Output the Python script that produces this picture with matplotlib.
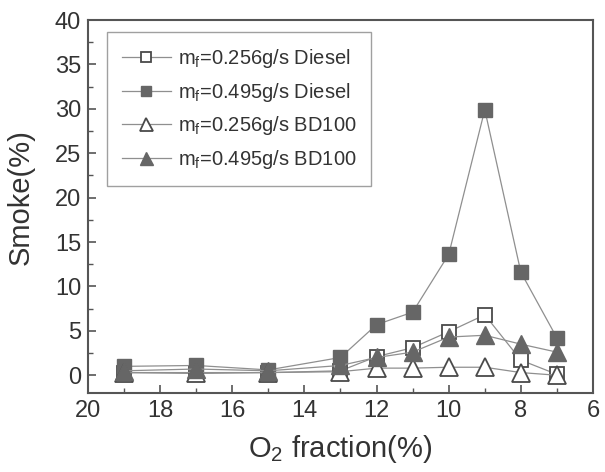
import matplotlib
matplotlib.use("Agg")
import matplotlib.pyplot as plt
from matplotlib.ticker import MultipleLocator

plt.rcParams['font.family'] = ['Liberation Sans', 'DejaVu Sans']
plt.rcParams['mathtext.fontset'] = 'custom'
plt.rcParams['mathtext.rm'] = 'Liberation Sans'
plt.rcParams['mathtext.it'] = 'Liberation Sans'

o2 = [19, 17, 15, 13, 12, 11, 10, 9, 8, 7]
diesel_256 = [0.3, 0.2, 0.3, 0.5, 2.1, 3.1, 4.9, 6.8, 1.7, 0.1]
diesel_495 = [1.0, 1.1, 0.6, 2.0, 5.7, 7.1, 13.6, 29.9, 11.6, 4.2]
bd_256 = [0.3, 0.3, 0.3, 0.4, 0.8, 0.8, 0.9, 0.9, 0.3, 0.0]
bd_495 = [0.5, 0.7, 0.5, 1.1, 2.0, 2.6, 4.3, 4.5, 3.5, 2.6]
labels = [r'm$_\mathregular{f}$=0.256g/s Diesel', r'm$_\mathregular{f}$=0.495g/s Diesel',
          r'm$_\mathregular{f}$=0.256g/s BD100', r'm$_\mathregular{f}$=0.495g/s BD100']

fig = plt.figure(figsize=(6.05, 4.72), dpi=100)
ax = fig.add_axes([88/605, 1-393/472, (593-88)/605, (393-20)/472])

lc = '#8f8f8f'
ec = '#4a4a4a'
fc = '#666666'
ax.plot(o2, diesel_256, '-', color=lc, lw=0.9, marker='s', ms=10.5, mfc='white', mec=ec, mew=1.3, label=labels[0])
ax.plot(o2, diesel_495, '-', color=lc, lw=0.9, marker='s', ms=10.5, mfc=fc, mec=fc, mew=1.0, label=labels[1])
ax.plot(o2, bd_256, '-', color=lc, lw=0.9, marker='^', ms=13, mfc='white', mec=ec, mew=1.3, label=labels[2])
ax.plot(o2, bd_495, '-', color=lc, lw=0.9, marker='^', ms=13, mfc=fc, mec=fc, mew=1.0, label=labels[3])

ax.set_xlim(20, 6)
ax.set_ylim(-2, 40)
ax.xaxis.set_major_locator(MultipleLocator(2))
ax.xaxis.set_minor_locator(MultipleLocator(1))
ax.yaxis.set_major_locator(MultipleLocator(5))
ax.yaxis.set_minor_locator(MultipleLocator(2.5))
ax.tick_params(which='both', direction='in', top=False, right=False, colors='#555555', labelcolor='#333333')
ax.tick_params(which='major', length=6, width=1.2, labelsize=17, pad=5)
ax.tick_params(which='minor', length=3.5, width=1.0)
for s in ax.spines.values():
    s.set_color('#555555')
    s.set_linewidth(1.5)

ax.set_xlabel(r'O$_\mathregular{2}$ fraction(%)', fontsize=21, color='#333333', labelpad=8)
ax.set_ylabel('Smoke(%)', fontsize=21, color='#333333')
ax.yaxis.set_label_coords(-0.105, 0.525)

leg = ax.legend(loc='upper left', bbox_to_anchor=(0.038, 0.968), fontsize=14.5, frameon=True, fancybox=False,
                edgecolor='#888888', handlelength=2.4, labelspacing=0.53, borderpad=0.75,
                handletextpad=0.35, markerscale=0.72, borderaxespad=0.0)
leg.get_frame().set_linewidth(1.0)
for t in leg.get_texts():
    t.set_color('#333333')

fig.savefig('out.png', dpi=100)
